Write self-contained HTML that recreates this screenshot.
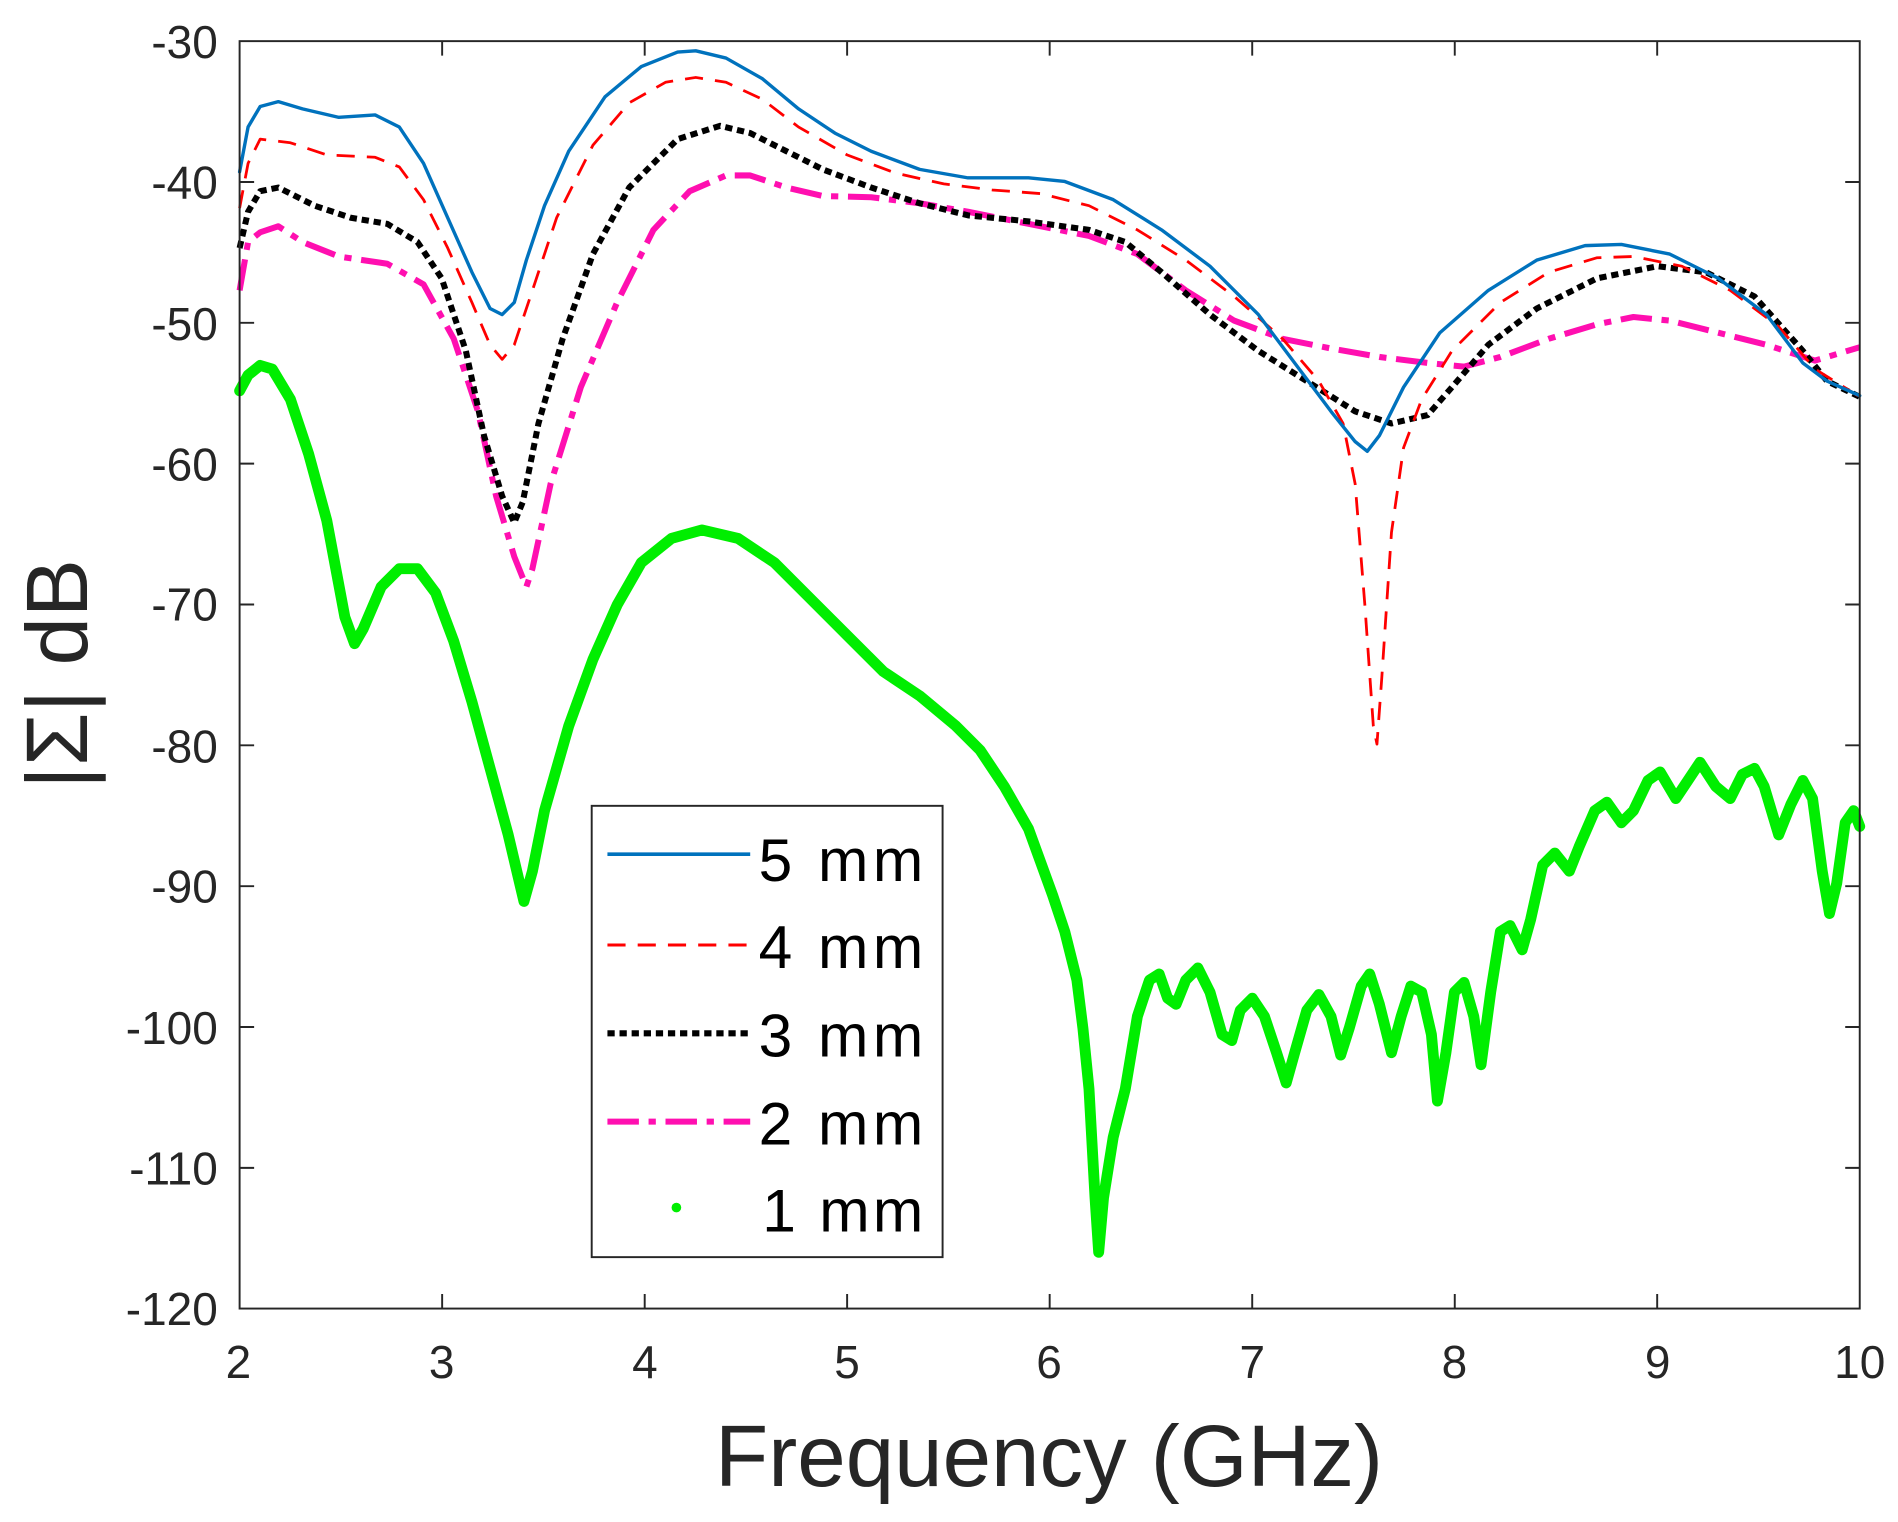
<!DOCTYPE html>
<html><head><meta charset="utf-8"><style>html,body{margin:0;padding:0;background:#fff;}svg{display:block}</style></head>
<body>
<svg width="1898" height="1522" viewBox="0 0 1568.6 1257.9" xmlns="http://www.w3.org/2000/svg" font-family="Liberation Sans, Arial, sans-serif">
<rect width="1568.6" height="1257.9" fill="#fff"/>
<g fill="none" stroke-linejoin="round" stroke-linecap="round">
<polyline stroke="#00ee00" stroke-width="9" points="198,323 205,310 215,302 225,305 240,330 255,375 270,430 285,510 293,532 300,520 315,485 330,470 345,470 360,490 375,530 390,580 405,635 420,690 433,745 440,720 450,670 470,600 490,545 510,500 530,465 555,445 580,438 610,445 640,465 670,495 700,525 730,555 760,575 790,600 810,620 830,650 850,685 870,740 880,770 890,810 895,850 900,900 905,990 908,1035 912,990 920,940 930,900 940,840 950,810 958,805 965,825 972,830 980,810 990,800 1000,820 1010,855 1018,860 1025,835 1035,825 1045,840 1055,870 1063,895 1070,870 1080,835 1090,822 1100,840 1108,872 1115,850 1125,815 1132,805 1140,830 1150,870 1158,840 1166,815 1175,820 1183,855 1188,910 1195,870 1202,820 1210,812 1218,840 1224,880 1232,820 1240,770 1248,765 1258,785 1265,760 1275,715 1285,705 1297,720 1305,700 1318,670 1328,663 1340,680 1350,670 1362,645 1372,638 1385,660 1395,645 1405,630 1418,650 1430,660 1440,640 1450,635 1458,650 1470,690 1480,665 1490,645 1498,660 1506,720 1512,755 1518,730 1525,680 1532,670 1537,683"/>
<polyline stroke="#ff0fb0" stroke-width="5" stroke-dasharray="26,8,6,8" stroke-linecap="butt" points="198,240 205,200 215,192 230,187 250,200 280,212 320,218 350,235 375,280 395,340 410,410 425,460 435,485 440,470 455,400 480,320 510,250 540,190 570,158 600,145 620,145 650,155 680,162 720,163 760,168 800,175 850,185 900,195 940,210 980,240 1020,265 1060,280 1100,288 1140,295 1180,300 1210,303 1240,295 1280,280 1320,268 1350,262 1380,265 1420,275 1460,285 1500,298 1537,287"/>
<polyline stroke="#000" stroke-width="5" stroke-dasharray="6,4" stroke-linecap="butt" points="198,205 205,175 215,158 230,155 260,170 290,180 320,185 345,200 365,230 385,290 400,360 415,410 425,432 432,415 445,350 465,280 490,210 520,155 560,115 595,104 620,110 650,125 680,140 720,155 760,168 800,178 850,183 900,190 930,200 960,225 1000,260 1040,290 1080,315 1120,340 1150,350 1180,343 1200,320 1230,285 1270,255 1320,230 1370,220 1410,225 1450,245 1490,290 1510,315 1537,328"/>
<polyline stroke="#ff0000" stroke-width="2.3" stroke-dasharray="15,10" stroke-linecap="butt" points="198,172 205,135 215,115 240,118 270,128 310,130 330,138 350,165 370,205 390,250 405,285 415,297 425,285 440,240 460,180 490,120 520,85 550,68 575,64 600,68 630,82 660,105 700,128 740,143 780,152 820,157 860,160 900,170 940,190 980,215 1020,245 1060,280 1090,315 1110,350 1120,400 1128,500 1135,600 1138,615 1142,560 1150,440 1160,370 1175,330 1200,290 1240,250 1280,225 1320,213 1350,212 1390,220 1430,240 1470,270 1500,305 1537,328"/>
<polyline stroke="#0072bd" stroke-width="2.8" points="198,142 205,105 215,88 230,84 250,90 280,97 310,95 330,105 350,135 370,180 390,225 405,255 415,260 425,250 435,215 450,170 470,125 500,80 530,55 560,43 575,42 600,48 630,65 660,90 690,110 720,125 760,140 800,147 850,147 880,150 920,165 960,190 1000,220 1040,260 1070,300 1100,340 1120,365 1130,373 1140,360 1160,320 1190,275 1230,240 1270,215 1310,203 1340,202 1380,210 1420,230 1460,260 1490,300 1510,315 1537,327"/>
</g>
<g stroke="#262626" stroke-width="1.6" fill="none">
<rect x="198" y="34" width="1339" height="1047.5"/>
<path d="M198,150.4h12M198,266.8h12M198,383.2h12M198,499.6h12M198,616h12M198,732.4h12M198,848.8h12M198,965.2h12M1537,150.4h-12M1537,266.8h-12M1537,383.2h-12M1537,499.6h-12M1537,616h-12M1537,732.4h-12M1537,848.8h-12M1537,965.2h-12M365.4,1081.5v-12M532.8,1081.5v-12M700.1,1081.5v-12M867.5,1081.5v-12M1034.9,1081.5v-12M1202.3,1081.5v-12M1369.6,1081.5v-12M365.4,34v12M532.8,34v12M700.1,34v12M867.5,34v12M1034.9,34v12M1202.3,34v12M1369.6,34v12"/>
</g>
<g fill="#262626" font-size="38" text-anchor="end">
<text x="180" y="48">-30</text><text x="180" y="164">-40</text><text x="180" y="281">-50</text><text x="180" y="397">-60</text><text x="180" y="513">-70</text><text x="180" y="630">-80</text><text x="180" y="746">-90</text><text x="180" y="863">-100</text><text x="180" y="979">-110</text><text x="180" y="1095">-120</text>
</g>
<g fill="#262626" font-size="38" text-anchor="middle">
<text x="197" y="1139">2</text><text x="365" y="1139">3</text><text x="533" y="1139">4</text><text x="700" y="1139">5</text><text x="867" y="1139">6</text><text x="1035" y="1139">7</text><text x="1202" y="1139">8</text><text x="1370" y="1139">9</text><text x="1537" y="1139">10</text>
</g>
<text x="867" y="1228" font-size="72" text-anchor="middle" fill="#262626">Frequency (GHz)</text>
<text transform="translate(72,557) rotate(-90)" font-size="72" text-anchor="middle" fill="#262626">|Σ| dB</text>
<rect x="489" y="666" width="290" height="373" fill="#fff" stroke="#262626" stroke-width="1.6"/>
<g font-size="50" fill="#000">
<line x1="502" y1="706" x2="620" y2="706" stroke="#0072bd" stroke-width="3"/>
<text x="627" y="728" textLength="136">5 mm</text>
<line x1="502" y1="781" x2="620" y2="781" stroke="#ff0000" stroke-width="2.5" stroke-dasharray="15,10"/>
<text x="627" y="800" textLength="136">4 mm</text>
<line x1="502" y1="854" x2="620" y2="854" stroke="#000" stroke-width="5" stroke-dasharray="6,4"/>
<text x="627" y="873" textLength="136">3 mm</text>
<line x1="502" y1="927" x2="620" y2="927" stroke="#ff0fb0" stroke-width="5" stroke-dasharray="26,8,6,8"/>
<text x="627" y="946" textLength="136">2 mm</text>
<circle cx="559" cy="998" r="4" fill="#00ee00"/>
<text x="630" y="1018" textLength="133">1 mm</text>
</g>
</svg>
</body></html>
